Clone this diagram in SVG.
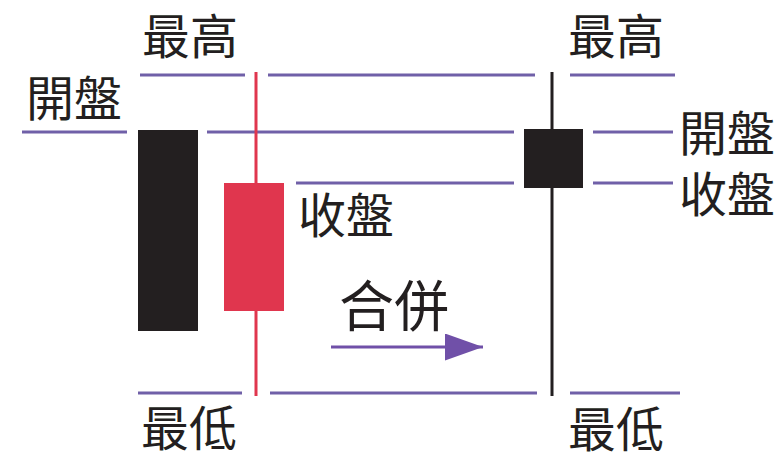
<svg xmlns="http://www.w3.org/2000/svg" width="781" height="457" viewBox="0 0 781 457">
<style>
.lv{stroke:#7060a8;stroke-width:3;fill:none}
.t{font-family:"Noto Sans CJK TC","Noto Sans CJK SC",sans-serif;font-size:48px;fill:#231f20}
.big{font-size:55px}
</style>
<defs>
<marker id="ah" viewBox="0 0 38 27" refX="38" refY="13.5" markerWidth="38" markerHeight="27" markerUnits="userSpaceOnUse" orient="auto">
<path d="M0,0 L38,13.5 L0,27 Z" fill="#7050a8"/>
</marker>
</defs>
<rect width="781" height="457" fill="#ffffff"/>
<g id="connectors">
<line class="lv" x1="140" y1="75" x2="245" y2="75"/>
<line class="lv" x1="268" y1="75" x2="535" y2="75"/>
<line class="lv" x1="570" y1="75" x2="675" y2="75"/>
<line class="lv" x1="22" y1="132" x2="127" y2="132"/>
<line class="lv" x1="207" y1="132" x2="514" y2="132"/>
<line class="lv" x1="593" y1="132" x2="673" y2="132"/>
<line class="lv" x1="296" y1="183" x2="514" y2="183"/>
<line class="lv" x1="593" y1="183" x2="673" y2="183"/>
<line class="lv" x1="138" y1="393" x2="242" y2="393"/>
<line class="lv" x1="270" y1="393" x2="537" y2="393"/>
<line class="lv" x1="570" y1="393" x2="680" y2="393"/>
<line x1="331" y1="347" x2="483" y2="347" stroke="#7050a8" stroke-width="3" marker-end="url(#ah)"/>
</g>
<g id="candle-black">
<rect x="138" y="130" width="60" height="201" fill="#231f20"/>
</g>
<g id="candle-red">
<line x1="256" y1="72" x2="256" y2="396" stroke="#e0364e" stroke-width="3"/>
<rect x="224" y="183" width="60" height="128" fill="#e0364e"/>
</g>
<g id="candle-merged">
<line x1="552" y1="72" x2="552" y2="396" stroke="#231f20" stroke-width="3"/>
<rect x="524" y="129" width="59" height="59" fill="#231f20"/>
</g>
<g id="labels">
<text class="t" x="190" y="54" text-anchor="middle">最高</text>
<text class="t" x="74" y="116" text-anchor="middle">開盤</text>
<text class="t" x="346" y="233" text-anchor="middle">收盤</text>
<text class="t big" x="394" y="326" text-anchor="middle">合併</text>
<text class="t" x="189" y="446" text-anchor="middle">最低</text>
<text class="t" x="616" y="54" text-anchor="middle">最高</text>
<text class="t" x="727" y="151" text-anchor="middle">開盤</text>
<text class="t" x="727" y="212" text-anchor="middle">收盤</text>
<text class="t" x="616" y="447" text-anchor="middle">最低</text>
</g>
</svg>
